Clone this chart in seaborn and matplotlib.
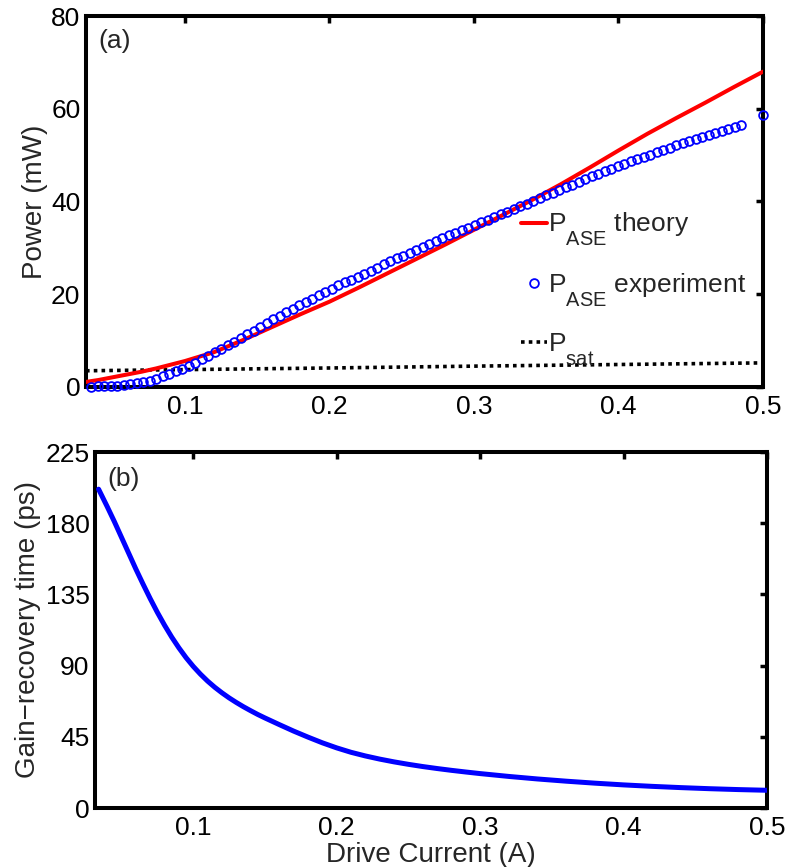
import matplotlib
matplotlib.use("Agg")
import matplotlib.pyplot as plt
from matplotlib.lines import Line2D
import seaborn as sns
import pandas as pd

try:
    import matplotlib._mathtext as _mt
    _mt.SHRINK_FACTOR = 0.76
    _mt.FontConstantsBase.sub1 = 1.05
except Exception:
    pass

# ---------------- data ----------------
theory_current = [0.0315, 0.04, 0.05, 0.06, 0.07, 0.08, 0.09, 0.10, 0.12, 0.14, 0.16,
                  0.18, 0.20, 0.22, 0.24, 0.26, 0.28, 0.30, 0.32, 0.34, 0.36, 0.38,
                  0.40, 0.42, 0.44, 0.46, 0.48, 0.50]
theory_power = [1.1, 1.5, 2.1, 2.7, 3.3, 4.0, 4.8, 5.6, 7.5, 10.1, 12.9,
                15.7, 18.4, 21.4, 24.5, 27.6, 30.7, 33.9, 37.1, 40.3, 43.7, 47.3,
                51.0, 54.6, 58.0, 61.3, 64.7, 68.0]

exp_current = [0.035, 0.0395, 0.044, 0.0485, 0.053, 0.0575, 0.062, 0.0665, 0.071, 0.0755,
               0.080, 0.0845, 0.089, 0.0935, 0.098, 0.1025, 0.107, 0.1115, 0.116, 0.1205,
               0.125, 0.1295, 0.134, 0.1385, 0.143, 0.1475, 0.152, 0.1565, 0.161, 0.1655,
               0.170, 0.1745, 0.179, 0.1835, 0.188, 0.1925, 0.197, 0.2015, 0.206, 0.2105,
               0.215, 0.2195, 0.224, 0.2285, 0.233, 0.2375, 0.242, 0.2465, 0.251, 0.2555,
               0.260, 0.2645, 0.269, 0.2735, 0.278, 0.2825, 0.287, 0.2915, 0.296, 0.3005,
               0.305, 0.3095, 0.314, 0.3185, 0.323, 0.3275, 0.332, 0.3365, 0.341, 0.3455,
               0.350, 0.3545, 0.359, 0.3635, 0.368, 0.3725, 0.377, 0.3815, 0.386, 0.3905,
               0.395, 0.3995, 0.404, 0.4085, 0.413, 0.4175, 0.422, 0.4265, 0.431, 0.4355,
               0.440, 0.4445, 0.449, 0.4535, 0.458, 0.4625, 0.467, 0.4715, 0.476, 0.4805,
               0.485, 0.500]
exp_power = [0.10, 0.15, 0.19, 0.24, 0.31, 0.42, 0.58, 0.79, 1.07, 1.40,
             1.80, 2.30, 2.79, 3.36, 3.94, 4.58, 5.25, 5.96, 6.72, 7.49,
             8.25, 9.02, 9.78, 10.55, 11.34, 12.15, 12.96, 13.77, 14.57, 15.34,
             16.10, 16.87, 17.64, 18.36, 19.08, 19.80, 20.52, 21.23, 21.90, 22.57,
             23.15, 23.74, 24.40, 25.08, 25.75, 26.43, 27.08, 27.71, 28.34, 28.97,
             29.60, 30.23, 30.86, 31.49, 32.12, 32.70, 33.24, 33.80, 34.38, 34.96,
             35.50, 36.04, 36.62, 37.20, 37.79, 38.38, 38.96, 39.55, 40.13, 40.72,
             41.30, 41.89, 42.47, 43.06, 43.64, 44.23, 44.81, 45.40, 45.98, 46.56,
             47.10, 47.64, 48.14, 48.64, 49.13, 49.63, 50.12, 50.62, 51.11, 51.61,
             52.10, 52.55, 53.00, 53.45, 53.90, 54.35, 54.80, 55.25, 55.70, 56.15,
             56.60, 58.60]

sat_current = [0.0315, 0.10, 0.20, 0.30, 0.40, 0.50]
sat_power = [3.5, 3.75, 4.1, 4.5, 4.85, 5.2]

tau_current = [0.034, 0.04, 0.045, 0.05, 0.055, 0.06, 0.065, 0.07, 0.075, 0.08,
               0.085, 0.09, 0.095, 0.10, 0.105, 0.11, 0.115, 0.12, 0.125, 0.13,
               0.135, 0.14, 0.145, 0.15, 0.16, 0.17, 0.18, 0.19, 0.20, 0.21,
               0.22, 0.23, 0.24, 0.25, 0.26, 0.27, 0.28, 0.29, 0.30, 0.32,
               0.34, 0.36, 0.38, 0.40, 0.42, 0.44, 0.46, 0.48, 0.50]
tau_ps = [201.5, 190.5, 181.0, 171.0, 161.0, 151.0, 141.5, 132.3, 123.6, 115.5,
          108.0, 101.2, 95.0, 89.5, 84.6, 80.2, 76.3, 72.8, 69.6, 66.7,
          64.0, 61.5, 59.1, 56.9, 52.7, 48.6, 44.8, 41.2, 38.0, 35.2,
          32.9, 30.9, 29.15, 27.6, 26.2, 24.95, 23.8, 22.75, 21.75, 19.95,
          18.35, 16.95, 15.7, 14.6, 13.68, 12.88, 12.2, 11.64, 11.2]

power_ticks = [0, 20, 40, 60, 80]
tau_ticks = [0, 45, 90, 135, 180, 225]
current_ticks = [0.1, 0.2, 0.3, 0.4, 0.5]

labels_legend = [r"P$_{\mathrm{ASE}}$ theory", r"P$_{\mathrm{ASE}}$ experiment", r"P$_{\mathrm{sat}}$"]

# ---------------- style ----------------
sns.set_theme(style="white")
plt.rcParams["font.family"] = ["Liberation Sans", "DejaVu Sans"]
plt.rcParams["mathtext.fontset"] = "custom"
plt.rcParams["mathtext.rm"] = "Liberation Sans"
plt.rcParams["mathtext.it"] = "Liberation Sans:italic"
plt.rcParams["mathtext.bf"] = "Liberation Sans:bold"

FS_TICK = 19
FS_LAB = 20
MS = 6.3
MEW = 1.3

df_th = pd.DataFrame({"I": theory_current, "P": theory_power})
df_ex = pd.DataFrame({"I": exp_current, "P": exp_power})
df_sat = pd.DataFrame({"I": sat_current, "P": sat_power})
df_tau = pd.DataFrame({"I": tau_current, "tau": tau_ps})

fig = plt.figure(figsize=(7.88, 8.67), dpi=100)
W, H = 788, 867
ax1 = fig.add_axes([86 / W, 1 - 387 / H, (763 - 86) / W, (387 - 16) / H])
ax2 = fig.add_axes([95 / W, 1 - 808 / H, (767 - 95) / W, (808 - 452) / H])

# ---- panel (a) ----
sns.lineplot(data=df_sat, x="I", y="P", ax=ax1, color="black", linewidth=2.6,
             dashes=False, zorder=3)
ax1.lines[-1].set_dashes((1.0, 1.15))
ax1.lines[-1].set_dash_capstyle("butt")
sns.lineplot(data=df_th, x="I", y="P", ax=ax1, color="#ff0000", linewidth=2.9, zorder=4)
sns.lineplot(data=df_ex, x="I", y="P", ax=ax1, color="#0000ff", linestyle="none",
             marker="o", markersize=MS, markerfacecolor="none",
             markeredgecolor="#0000ff", markeredgewidth=MEW, zorder=5, clip_on=False)

ax1.set_xlim(0.0315, 0.5)
ax1.set_ylim(0, 80)
ax1.set_yticks(power_ticks)
ax1.set_xticks(current_ticks)
ax1.set_xticklabels([f"{v:g}" for v in current_ticks])
ax1.set_ylabel("Power (mW)", fontsize=FS_LAB, labelpad=2)
ax1.set_xlabel("")
ax1.text(0.019, 0.965, "(a)", transform=ax1.transAxes, ha="left", va="top",
         fontsize=FS_TICK)

handles = [
    Line2D([], [], color="#ff0000", linewidth=2.9),
    Line2D([], [], color="#0000ff", linestyle="none", marker="o", markersize=MS,
           markerfacecolor="none", markeredgecolor="#0000ff", markeredgewidth=MEW),
    Line2D([], [], color="black", linewidth=2.6, dashes=(1.0, 1.15), dash_capstyle="butt"),
]
leg = ax1.legend(handles, labels_legend, loc="upper left", bbox_to_anchor=(0.6425, 0.475),
                 frameon=False, fontsize=FS_TICK, handlelength=1.0, handletextpad=0.02,
                 labelspacing=0.85, borderpad=0, borderaxespad=0, numpoints=1)

# ---- panel (b) ----
sns.lineplot(data=df_tau, x="I", y="tau", ax=ax2, color="#0000ff", linewidth=3.6, zorder=4)
ax2.set_xlim(0.0315, 0.5)
ax2.set_ylim(0, 225)
ax2.set_yticks(tau_ticks)
ax2.set_xticks(current_ticks)
ax2.set_xticklabels([f"{v:g}" for v in current_ticks])
ax2.set_ylabel("Gain\u2212recovery time (ps)", fontsize=FS_LAB, labelpad=3)
ax2.set_xlabel("Drive Current (A)", fontsize=FS_LAB, labelpad=1)
ax2.text(0.018, 0.958, "(b)", transform=ax2.transAxes, ha="left", va="top",
         fontsize=FS_TICK)

for ax in (ax1, ax2):
    for sp in ax.spines.values():
        sp.set_linewidth(2.9)
        sp.set_color("black")
        sp.set_zorder(2)
    ax.tick_params(direction="in", top=True, right=True, length=5, width=2.5,
                   labelsize=FS_TICK, pad=4, colors="black")
    ax.tick_params(axis="x", pad=6)
    ax.set_facecolor("white")

fig.savefig("out.png", dpi=100, facecolor="white")
